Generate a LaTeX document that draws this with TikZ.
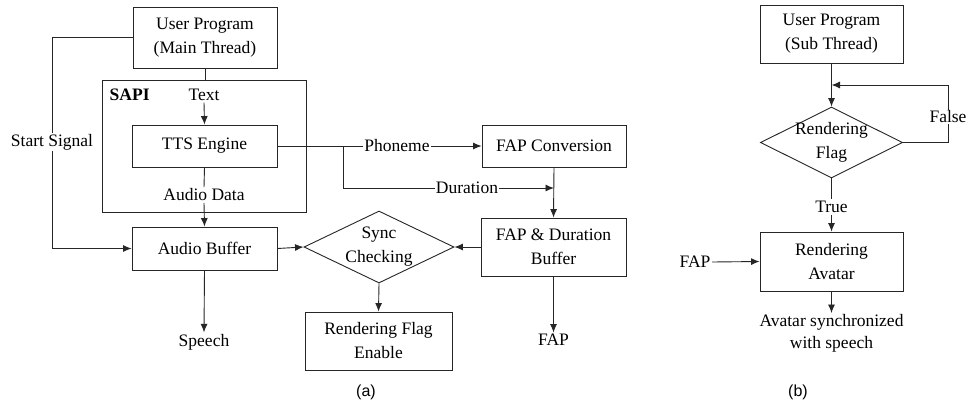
\documentclass[tikz,border=0pt]{standalone}
\usepackage{fontspec}
\setmainfont{Liberation Serif}
\newfontfamily\capfont{Liberation Sans}
\usetikzlibrary{arrows.meta,shapes.geometric}
\tikzset{
  ln/.style={draw=black!85, line width=0.9pt},
  arr/.style={ln, -{Latex[length=8.5pt,width=7pt]}},
  box/.style={ln, rectangle, inner sep=0pt, align=center},
  decision/.style={ln, diamond, inner sep=0pt},
  lbl/.style={inner sep=1.5pt, align=center},
  onl/.style={lbl, fill=white, inner sep=1pt},
}
\begin{document}
\begin{tikzpicture}[x=1pt,y=-1pt,font=\fontsize{17.5}{24}\selectfont]
\useasboundingbox (0,0) rectangle (969,405);
\fill[white] (0,0) rectangle (969,405);

% ---------- (a) main thread ----------
\node[box, minimum width=144, minimum height=61] (up) at (205,37.5) {User Program\\(Main Thread)};
\node[box, minimum width=204, minimum height=132] (sapi) at (204,146) {};
\node[lbl, anchor=west] (sapilbl) at (108,95) {\bfseries SAPI};
\node[lbl] (text) at (204,95) {Text};
\node[box, minimum width=145, minimum height=42] (tts) at (204.5,146) {TTS Engine};
\node[lbl] (adata) at (204,195) {Audio Data};
\node[box, minimum width=145, minimum height=43] (ab) at (204.5,248.5) {Audio Buffer};
\node[lbl] (speech) at (204,342) {Speech};

\node[box, minimum width=144, minimum height=42] (fapc) at (554,146) {FAP Conversion};
\node[box, minimum width=145, minimum height=58] (fapd) at (553.5,247) {FAP \& Duration\\Buffer};
\node[lbl] (fapout) at (553.5,340) {FAP};

\node[decision, minimum width=150, minimum height=72] (sync) at (379,247) {};
\node[lbl] (synclbl) at (sync) {Sync\\Checking};
\node[box, minimum width=147, minimum height=58] (rfe) at (378.5,341) {Rendering Flag\\Enable};

\coordinate (sapitop) at (up.south |- sapi.north);
\draw[ln] (up.south) -- (sapitop);
\draw[arr] (text.south) -- (tts.north);
\draw[ln] (tts.south) -- (adata.north);
\draw[arr] (adata.south) -- (ab.north);
\draw[arr] (ab.south) -- (speech.north);

\coordinate (startcorner) at (52,37.5);
\draw[arr] (up.west) -- (startcorner) |- (ab.west);
\node[onl] (start) at (52,142) {Start Signal};

\coordinate (br) at (343,146);
\coordinate (brdown) at (343,188);
\coordinate (durend) at (fapc.south |- brdown);
\draw[arr] (tts.east) -- (fapc.west);
\node[onl] (phon) at (397,146) {Phoneme};
\draw[arr] (br) -- (brdown) -- (durend);
\node[onl] (dur) at (467,188) {Duration};
\draw[arr] (fapc.south) -- (fapd.north);
\draw[arr] (fapd.west) -- (sync.east);
\draw[arr] (ab.east) -- (sync.west);
\draw[arr] (sync.south) -- (rfe.north);
\draw[arr] (fapd.south) -- (fapout.north);

\node[lbl, font=\capfont\fontsize{16}{19}\selectfont] (capa) at (366,392) {(a)};

% ---------- (b) sub thread ----------
\node[box, minimum width=143, minimum height=58] (ups) at (831.5,34) {User Program\\(Sub Thread)};
\node[decision, minimum width=142, minimum height=71] (rf) at (831.5,142.5) {};
\node[lbl] (rflbl) at (rf) {Rendering\\Flag};
\node[lbl] (true) at (831.5,207) {True};
\node[box, minimum width=143, minimum height=59] (ra) at (831.5,261.5) {Rendering\\Avatar};
\node[lbl] (fapin) at (695,262) {FAP};
\node[lbl, anchor=north, font=\fontsize{17.5}{22}\selectfont] (avs) at (831.5,313) {Avatar synchronized\\with speech};

\draw[arr] (ups.south) -- (rf.north);
\coordinate (loopcorner) at (948,142.5);
\coordinate (loopin) at (831.5,85);
\draw[arr] (rf.east) -- (loopcorner) |- (loopin);
\node[onl] (false) at (948,117) {False};
\draw[ln] (rf.south) -- (true.north);
\draw[arr] (true.south) -- (ra.north);
\draw[arr] (fapin.east) -- (ra.west);
\draw[arr] (ra.south) -- (avs.north);

\node[lbl, font=\capfont\fontsize{16}{19}\selectfont] (capb) at (798,392) {(b)};
\end{tikzpicture}
\end{document}
